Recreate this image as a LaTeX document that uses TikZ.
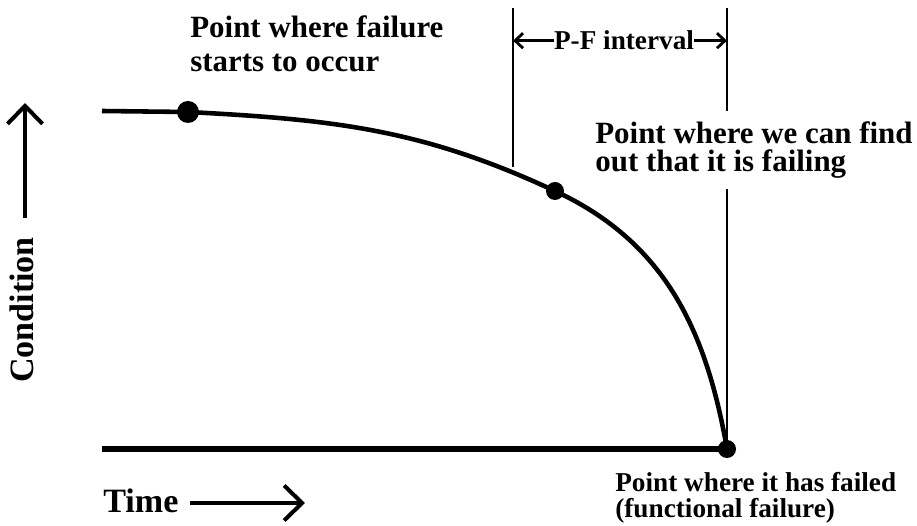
\documentclass[tikz,border=0pt]{standalone}
\usepackage{fontspec}
\setmainfont{Liberation Serif}
\usetikzlibrary{arrows.meta,positioning}
\tikzset{
  dot/.style={circle,fill=black,inner sep=0pt,minimum size=#1},
  note/.style={font=\bfseries\fontsize{17.6pt}{16.5pt}\selectfont,
    align=left,inner sep=0pt,anchor=base west},
  axislabel/.style={font=\bfseries\fontsize{19.4pt}{20pt}\selectfont,inner sep=0pt},
  curve/.style={line width=2.6pt},
  timeline/.style={line width=3.2pt},
  marker/.style={line width=0.6pt},
  axisarrow/.style={line width=2.3pt,-{Straight Barb[length=3.6mm,width=7mm]}},
  gaparrow/.style={line width=1.6pt,-{Straight Barb[length=1.6mm,width=3mm]}}
}

\begin{document}
\begin{tikzpicture}[x=0.02cm,y=-0.02cm]
  \useasboundingbox (0,0) rectangle (917,526);
  % points on the curve
  \coordinate (start) at (102,111);
  \node[dot=0.44cm] (onset) at (188,112) {};
  \node[dot=0.36cm] (detect) at (555,191) {};
  \node[dot=0.36cm] (fail) at (727,449) {};
  \coordinate (origin) at (102,449);
  % P-F interval markers
  \coordinate (pfleft) at (513,8);
  \coordinate (pfcut) at (513,167);
  \coordinate (pfright) at (727,8);
  \draw[marker] (pfleft) -- (pfcut);
  \draw[marker] (pfright) -- (fail.center);
  % curve and time line
  \draw[curve] (start) -- (onset.center)
    to[out=-3,in=155] (detect.center)
    to[out=-25,in=100] (fail.center);
  \draw[timeline] (origin) -- (fail.center);
  % texts (base is the last line)
  \node[note,font=\bfseries\fontsize{17.6pt}{19.9pt}\selectfont] (onsettext) at (190,72)
    {Point where failure\\starts to occur};
  \node[note,fill=white,inner ysep=6pt] (detecttext) at (595,172)
    {Point where we can find\\out that it is failing};
  \node[note,font=\bfseries\fontsize{15.5pt}{14.8pt}\selectfont] (failtext) at (615,518)
    {Point where it has failed\\(functional failure)};
  \node[note,font=\bfseries\fontsize{15.5pt}{16pt}\selectfont,anchor=base] (pf) at (624,50)
    {P-F interval};
  \draw[gaparrow] (pf.west) -- (pf.west -| pfleft);
  \draw[gaparrow] (pf.east) -- (pf.east -| pfright);
  % axes
  \node[axislabel,anchor=base west] (time) at (103,513) {Time};
  \coordinate (timetail) at (190,503);
  \coordinate (timetip) at (305,503);
  \draw[axisarrow] (timetail) -- (timetip);
  \node[axislabel,rotate=90,anchor=base] (cond) at (33,310) {Condition};
  \coordinate (condtail) at (25,218);
  \coordinate (condtip) at (25,103);
  \draw[axisarrow] (condtail) -- (condtip);
\end{tikzpicture}
\end{document}
